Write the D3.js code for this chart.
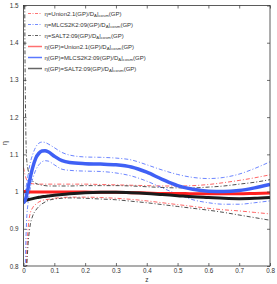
<!DOCTYPE html>
<html>
<head>
<meta charset="utf-8">
<script src="https://cdn.jsdelivr.net/npm/d3@7"></script>
<style>
  body { margin: 0; background: #fff; }
  text { font-family: "Liberation Sans", Arial, sans-serif; fill: #333; }
</style>
</head>
<body>
<div id="chart"></div>
<script>
// redshift grid shared by all curves
var zGrid = [0, 0.005, 0.01, 0.015, 0.02, 0.03, 0.04, 0.05, 0.06, 0.07, 0.08, 0.1, 0.125, 0.15,
    0.2, 0.25, 0.3, 0.35, 0.4, 0.45, 0.5, 0.55, 0.6, 0.65, 0.7, 0.75, 0.8];

// dash-dot bounds (eta from data)
var unionUpper = [1.065, 1.045, 1.032, 1.026, 1.023, 1.021, 1.02, 1.02, 1.02, 1.02, 1.02, 1.02, 1.02, 1.02,
    1.02, 1.019, 1.018, 1.017, 1.016, 1.015, 1.015, 1.016, 1.019, 1.024, 1.03, 1.037, 1.045];
var unionLower = [0.3, 0.6, 0.82, 0.9, 0.935, 0.957, 0.966, 0.972, 0.976, 0.978, 0.979, 0.982, 0.984, 0.985,
    0.985, 0.984, 0.982, 0.979, 0.975, 0.97, 0.965, 0.96, 0.955, 0.951, 0.948, 0.944, 0.94];
var mlcsUpper = [0.99, 1.0, 1.02, 1.045, 1.07, 1.1, 1.12, 1.13, 1.133, 1.132, 1.128, 1.118, 1.105, 1.098,
    1.093, 1.092, 1.09, 1.085, 1.072, 1.058, 1.046, 1.038, 1.035, 1.038, 1.047, 1.062, 1.08];
var mlcsLower = [0.3, 0.75, 0.92, 0.97, 1.0, 1.035, 1.058, 1.072, 1.08, 1.083, 1.082, 1.072, 1.06, 1.057,
    1.055, 1.054, 1.05, 1.042, 1.028, 1.01, 0.993, 0.978, 0.97, 0.966, 0.966, 0.97, 0.975];
var saltUpper = [3.0, 1.35, 1.09, 1.058, 1.042, 1.028, 1.022, 1.019, 1.017, 1.016, 1.015, 1.015, 1.015, 1.015,
    1.016, 1.016, 1.016, 1.015, 1.013, 1.011, 1.01, 1.01, 1.012, 1.015, 1.02, 1.025, 1.032];
var saltLower = [0.3, 0.6, 0.78, 0.86, 0.9, 0.935, 0.95, 0.96, 0.967, 0.972, 0.976, 0.98, 0.982, 0.983,
    0.982, 0.98, 0.978, 0.974, 0.97, 0.965, 0.96, 0.955, 0.95, 0.944, 0.937, 0.93, 0.923];

// GP reconstructions (thick solid)
var unionGP = [1.0, 1.0, 1.0, 0.999, 0.999, 0.999, 0.999, 0.999, 0.999, 0.999, 0.999, 0.999, 0.999, 0.999,
    0.999, 0.998, 0.998, 0.997, 0.996, 0.995, 0.995, 0.994, 0.994, 0.994, 0.994, 0.995, 0.996];
var mlcsGP = [0.97, 0.975, 0.99, 1.01, 1.03, 1.065, 1.09, 1.103, 1.109, 1.11, 1.107, 1.095, 1.083, 1.078,
    1.075, 1.074, 1.072, 1.066, 1.052, 1.033, 1.016, 1.006, 1.001, 1.0, 1.003, 1.01, 1.019];
var saltGP = [0.975, 0.976, 0.977, 0.978, 0.979, 0.981, 0.983, 0.985, 0.986, 0.987, 0.988, 0.99, 0.992, 0.994,
    0.997, 0.998, 0.998, 0.997, 0.995, 0.992, 0.989, 0.986, 0.984, 0.982, 0.981, 0.982, 0.984];

var xTicks = [0, 0.1, 0.2, 0.3, 0.4, 0.5, 0.6, 0.7, 0.8];
var yTicks = [0.8, 0.9, 1, 1.1, 1.2, 1.3, 1.4, 1.5];

var legendNames = ["Union2.1", "MLCS2K2:09", "SALT2:09", "Union2.1", "MLCS2K2:09", "SALT2:09"];

var width = 277, height = 284;
var margin = {left: 23.5, right: 270, top: 5.5, bottom: 266};

var svg = d3.select("#chart").append("svg")
    .attr("width", width)
    .attr("height", height);

var x = d3.scaleLinear().domain([0, 0.8]).range([margin.left, margin.right]);
var y = d3.scaleLinear().domain([0.8, 1.5]).range([margin.bottom, margin.top]);

svg.append("clipPath").attr("id", "clip")
    .append("rect")
    .attr("x", margin.left).attr("y", margin.top)
    .attr("width", margin.right - margin.left).attr("height", margin.bottom - margin.top);

var line = d3.line()
    .x(function (d) { return x(d[0]); })
    .y(function (d) { return y(d[1]); })
    .curve(d3.curveMonotoneX);

function pairs(vals) {
    return zGrid.map(function (z, i) { return [z, vals[i]]; });
}

var series = [
    {vals: unionUpper, color: "#ff3b3b", w: 0.8, dash: "4,2,1,2"},
    {vals: unionLower, color: "#ff3b3b", w: 0.8, dash: "4,2,1,2"},
    {vals: mlcsUpper, color: "#4564ff", w: 0.8, dash: "4,2,1,2"},
    {vals: mlcsLower, color: "#4564ff", w: 0.8, dash: "4,2,1,2"},
    {vals: saltUpper, color: "#222", w: 0.8, dash: "4,2,1,2"},
    {vals: saltLower, color: "#222", w: 0.8, dash: "4,2,1,2"},
    {vals: unionGP, color: "#ff2020", w: 3, dash: null},
    {vals: saltGP, color: "#1a1a1a", w: 3, dash: null},
    {vals: mlcsGP, color: "#3f60f5", w: 3.5, dash: null}
];

var plot = svg.append("g").attr("clip-path", "url(#clip)");
series.forEach(function (s) {
    plot.append("path")
        .attr("d", line(pairs(s.vals)))
        .attr("fill", "none")
        .attr("stroke", s.color)
        .attr("stroke-width", s.w)
        .attr("stroke-dasharray", s.dash);
});

// frame
svg.append("rect")
    .attr("x", margin.left).attr("y", margin.top)
    .attr("width", margin.right - margin.left).attr("height", margin.bottom - margin.top)
    .attr("fill", "none").attr("stroke", "#333").attr("stroke-width", 0.8);

// axes with inward ticks
var xAxis = d3.axisBottom(x).tickValues(xTicks).tickSizeInner(-3).tickSizeOuter(0)
    .tickPadding(3).tickFormat(d3.format("~g"));
var yAxis = d3.axisLeft(y).tickValues(yTicks).tickSizeInner(-3).tickSizeOuter(0)
    .tickPadding(5).tickFormat(d3.format("~g"));

svg.append("g").attr("transform", "translate(0," + margin.bottom + ")").call(xAxis);
svg.append("g").attr("transform", "translate(" + margin.left + ",0)").call(yAxis);
svg.append("g").attr("transform", "translate(0," + margin.top + ")")
    .call(d3.axisTop(x).tickValues(xTicks).tickSizeInner(-3).tickSizeOuter(0).tickFormat(""));
svg.append("g").attr("transform", "translate(" + margin.right + ",0)")
    .call(d3.axisRight(y).tickValues(yTicks).tickSizeInner(-3).tickSizeOuter(0).tickFormat(""));

svg.selectAll(".domain").remove();
svg.selectAll(".tick line").attr("stroke", "#333").attr("stroke-width", 0.7);
svg.selectAll(".tick text").style("font-size", "6.3px").attr("fill", "#333");

svg.append("text")
    .attr("x", (margin.left + margin.right) / 2).attr("y", 282)
    .attr("text-anchor", "middle")
    .style("font-size", "6.5px")
    .text("z");

svg.append("text")
    .attr("transform", "translate(7,143) rotate(-90)")
    .attr("text-anchor", "middle")
    .style("font-size", "7px")
    .text("η");

// legend
var legendStyles = [
    {color: "#ff5050", w: 0.8, dash: "3,1.5,1,1.5"},
    {color: "#5070ff", w: 0.8, dash: "3,1.5,1,1.5"},
    {color: "#333", w: 0.8, dash: "3,1.5,1,1.5"},
    {color: "#ff7070", w: 1.5, dash: null},
    {color: "#5a78ff", w: 1.5, dash: null},
    {color: "#666", w: 1.5, dash: null}
];
var legend = svg.append("g");
legendNames.forEach(function (name, i) {
    var ly = 13.5 + i * 11;
    var st = legendStyles[i];
    legend.append("line")
        .attr("x1", 28).attr("x2", 42).attr("y1", ly).attr("y2", ly)
        .attr("stroke", st.color).attr("stroke-width", st.w)
        .attr("stroke-dasharray", st.dash);
    var t = legend.append("text")
        .attr("x", 44.5).attr("y", ly + 2.2)
        .style("font-size", "6px");
    t.append("tspan").text((i < 3 ? "η=" : "η(GP)=") + name + "(GP)/D");
    t.append("tspan").attr("dy", 1.6).style("font-size", "4.3px").text("A");
    t.append("tspan").attr("dy", -1.6).text("|");
    t.append("tspan").attr("dy", 1.6).style("font-size", "4.3px").text("cosm");
    t.append("tspan").attr("dy", -1.6).text("(GP)");
});
</script>
</body>
</html>
